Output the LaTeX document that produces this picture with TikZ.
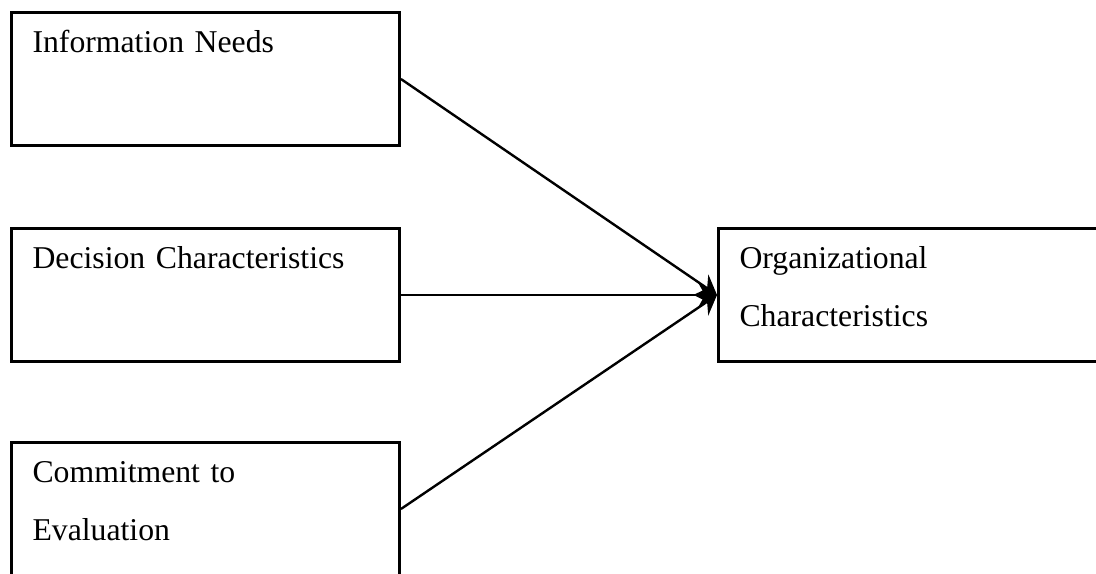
\documentclass[tikz,border=0pt]{standalone}
\usepackage{fontspec}
\setmainfont{Liberation Serif}
\usetikzlibrary{arrows.meta}
\usetikzlibrary{positioning}

\begin{document}
\begin{tikzpicture}[
    x=0.375pt, y=-0.375pt,
    box/.style={draw, line width=1.1pt, anchor=north west, align=left, inner xsep=7.9pt, inner ysep=0pt,
      text width=129.7pt, text height=15pt, text depth=34.9pt, font=\fontsize{11.9}{21.6}\selectfont},
    link/.style={draw, line width=0.9pt, -{Stealth[length=7pt, width=9pt, inset=2.5pt]}}
  ]
    \useasboundingbox (0,0) rectangle (1096,573);
    \node[box] (info) at (10,11) {Information Needs};
    \node[box] (decision) at (10,227) {Decision Characteristics};
    \node[box] (commit) at (10,441) {Commitment to\\Evaluation};
    \node[box] (org) at (717,227) {Organizational\\Characteristics};
    \draw[link] (info.east) -- (org.west);
    \draw[link] (decision.east) -- (org.west);
    \draw[link] (commit.east) -- (org.west);
  \end{tikzpicture}
\end{document}
